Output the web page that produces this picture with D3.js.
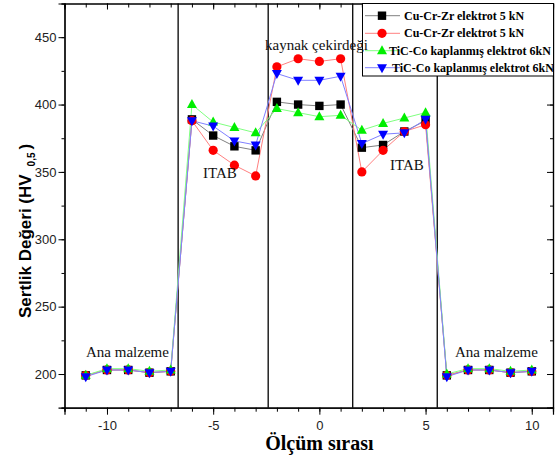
<!DOCTYPE html>
<html><head><meta charset="utf-8">
<script src="https://cdn.jsdelivr.net/npm/d3@7"></script>
<style>body{margin:0;background:#fff}svg{display:block}</style>
</head><body>
<script>
const xs = [-11,-10,-9,-8,-7,-6,-5,-4,-3,-2,-1,0,1,2,3,4,5,6,7,8,9,10];
const cuCrZr5Black = [199,203,203,201,202,389,377,369,366,402,400,399,400,368,370,380,388,199,203,203,201,202];
const cuCrZr5Red   = [199,203,203,201,202,388,366,355,347,428,434,432,434,350,366,380,385,199,203,203,201,202];
const ticoGreen    = [199,204,204,202,203,400,387,383,379,397,394,391,392,381,386,390,394,200,204,204,202,203];
const ticoBlue     = [198,203,203,201,202,388,384,373,370,423,418,418,421,371,378,379,389,198,203,203,201,202];
const seriesNames = ["Cu-Cr-Zr elektrot  5 kN","Cu-Cr-Zr elektrot  5 kN","TiC-Co kaplanmış elektrot 6kN","TiC-Co kaplanmış elektrot 6kN"];
const boundaries = [-6.65,-2.41,1.57,5.55];
const xTicks = [-10,-5,0,5,10];
const yTicks = [200,250,300,350,400,450];

const W=558,H=462;
const svg=d3.select("body").append("svg").attr("width",W).attr("height",H);
const x=d3.scaleLinear().domain([-12,11]).range([64.5,553]);
const y=d3.scaleLinear().domain([175,475]).range([407.7,3.5]);

const series=[
 {vals:cuCrZr5Black,line:"#808080",fill:"#000",shape:"square"},
 {vals:cuCrZr5Red,line:"#ff8080",fill:"#ff0000",shape:"circle"},
 {vals:ticoGreen,line:"#80ff80",fill:"#00ee00",shape:"up"},
 {vals:ticoBlue,line:"#8080ff",fill:"#0000ff",shape:"down"}
];
function marker(g,shape,fill){
  if(shape==="square") g.append("rect").attr("x",-4.2).attr("y",-4.2).attr("width",8.4).attr("height",8.4).attr("fill",fill);
  else if(shape==="circle") g.append("circle").attr("r",4.6).attr("fill",fill);
  else if(shape==="up") g.append("path").attr("d","M0,-5.5L5,3.5L-5,3.5Z").attr("fill",fill);
  else g.append("path").attr("d","M0,5.5L5,-3.5L-5,-3.5Z").attr("fill",fill);
}

// boundaries
svg.selectAll(".bd").data(boundaries).enter().append("line")
 .attr("x1",d=>x(d)).attr("x2",d=>x(d)).attr("y1",y(475)).attr("y2",y(175))
 .attr("stroke","#000").attr("stroke-width",1.3);

const line=d3.line().x((d,i)=>x(xs[i])).y(d=>y(d));
series.forEach(s=>{
  svg.append("path").attr("d",line(s.vals)).attr("fill","none").attr("stroke",s.line).attr("stroke-width",1);
});
series.forEach(s=>{
  s.vals.forEach((v,i)=>{
    const g=svg.append("g").attr("transform",`translate(${x(xs[i])},${y(v)})`);
    marker(g,s.shape,s.fill);
  });
});

// axes
const fmt=d=>String(d);
const minorX=d3.range(-12,12,1);
const minorY=d3.range(175,476,25);
const ax=svg.append("g").attr("transform",`translate(0,${y(175)})`);
ax.call(d3.axisBottom(x).tickValues(minorX).tickSize(4).tickFormat(""));
ax.append("g").call(d3.axisBottom(x).tickValues(xTicks).tickSize(7).tickFormat(fmt));
const at=svg.append("g").attr("transform",`translate(0,${y(475)})`);
at.call(d3.axisBottom(x).tickValues(minorX).tickSize(4).tickFormat(""));
at.append("g").call(d3.axisBottom(x).tickValues(xTicks).tickSize(6).tickFormat(""));
const ay=svg.append("g").attr("transform",`translate(${x(-12)},0)`);
ay.call(d3.axisLeft(y).tickValues(minorY).tickSize(3).tickFormat(""));
ay.append("g").call(d3.axisLeft(y).tickValues(yTicks).tickSize(6).tickFormat(fmt));
const ar=svg.append("g").attr("transform",`translate(${x(11)},0)`);
ar.call(d3.axisLeft(y).tickValues(minorY).tickSize(3).tickFormat(""));
ar.append("g").call(d3.axisLeft(y).tickValues(yTicks).tickSize(6).tickFormat(""));
svg.selectAll(".domain").attr("stroke","#000").attr("stroke-width",1.2);
svg.selectAll(".tick line").attr("stroke","#000");
svg.selectAll(".tick text").attr("font-family","Liberation Sans, Arial, sans-serif").attr("font-size",13).attr("fill","#222");
ax.selectAll(".tick text").attr("dy","0.95em");
ay.selectAll(".tick text").attr("dx","1");

// annotations
const serif="Liberation Serif, Times New Roman, serif";
function ann(t,px,py){svg.append("text").attr("x",px).attr("y",py).attr("font-family",serif).attr("font-size",15).attr("fill","#111").text(t);}
ann("Ana malzeme",86,357);
ann("Ana malzeme",455,357);
ann("ITAB",203,178);
ann("ITAB",390,170);

// legend
const lg=svg.append("g");
lg.append("rect").attr("x",362.5).attr("y",3.5).attr("width",191).attr("height",72.5).attr("fill","#fff").attr("stroke","#000").attr("stroke-width",1);
const rowsY=[15.7,33.3,50.7,67.7];
const textX=[404,404,389,392];
series.forEach((s,i)=>{
  lg.append("line").attr("x1",365).attr("x2",400).attr("y1",rowsY[i]).attr("y2",rowsY[i]).attr("stroke",s.line);
  const g=lg.append("g").attr("transform",`translate(382,${rowsY[i]})`);
  marker(g,s.shape,s.fill);
  lg.append("text").attr("x",textX[i]).attr("y",rowsY[i]+4).attr("font-family",serif).attr("font-weight","bold").attr("font-size",12).attr("fill","#000").text(seriesNames[i]);
});
ann("kaynak çekirdeği",265,50);

// axis titles
svg.append("text").attr("x",x(0)).attr("y",450).attr("text-anchor","middle").attr("font-family",serif).attr("font-weight","bold").attr("font-size",20).text("Ölçüm sırası");
const yl=svg.append("text").attr("transform","translate(31,318) rotate(-90)").attr("text-anchor","start")
 .attr("font-family","Liberation Sans, Arial, sans-serif").attr("font-weight","bold").attr("font-size",17);
yl.append("tspan").text("Sertlik Değeri (HV");
yl.append("tspan").attr("font-size",10).attr("dx",8).attr("dy",4).text("0,5");
yl.append("tspan").attr("dx",3).attr("dy",-4).text(")");
</script>
</body></html>
